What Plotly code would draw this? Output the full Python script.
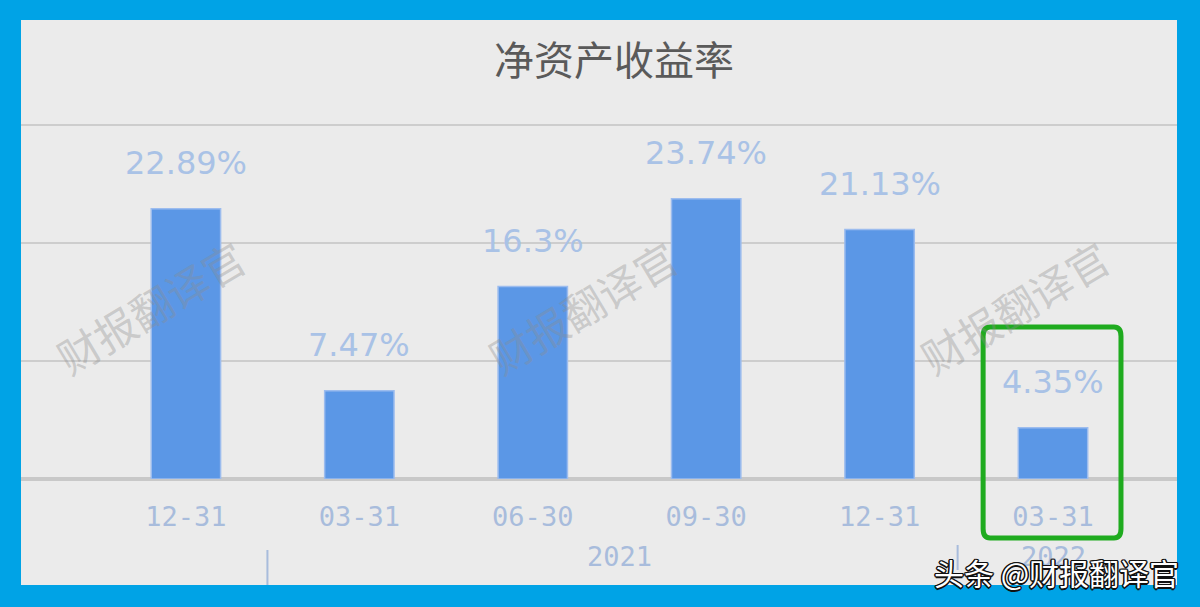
import plotly.graph_objects as go

# ---- data ----
categories = ["12-31", "03-31", "06-30", "09-30", "12-31", "03-31"]
roe_values = [22.89, 7.47, 16.3, 23.74, 21.13, 4.35]
value_labels = ["22.89%", "7.47%", "16.3%", "23.74%", "21.13%", "4.35%"]
year_labels = ["2021", "2022"]
y_ticks = [0, 10, 20, 30]

W, H = 1200, 607
L, R, T, B = 21, 1177, 113, 479  # plot area in pixels
Y_MAX = 31.0


def px(x):
    return (x - L) / (R - L)


def py(y):
    return (B - y) / (B - T)


xs = list(range(len(categories)))
x_lo = -0.951
x_hi = len(categories) - 1 + 0.715

fig = go.Figure()
fig.add_trace(go.Bar(
    x=xs, y=roe_values, width=0.4,
    marker=dict(color="#5b97e6", line=dict(color="#9cbcee", width=1.5)),
    hoverinfo="skip",
))

annotations = []
for i, (v, t) in enumerate(zip(roe_values, value_labels)):
    annotations.append(dict(
        x=i, y=v, xref="x", yref="y", text=t, showarrow=False,
        xanchor="center", yanchor="middle", yshift=46,
        font=dict(family="DejaVu Sans", size=32, color="#a9c2e6"),
    ))

# year labels
tick_font = dict(family="DejaVu Sans Mono", size=27, color="#a8bcdc")
annotations.append(dict(x=(1 + 4) / 2, y=py(556), xref="x", yref="paper", text=year_labels[0],
                        showarrow=False, xanchor="center", yanchor="middle", font=tick_font))
annotations.append(dict(x=5, y=py(556), xref="x", yref="paper", text=year_labels[1],
                        showarrow=False, xanchor="center", yanchor="middle", font=tick_font))

# watermarks
for cx in [150, 582, 1014]:
    annotations.append(dict(x=px(cx), y=py(306), xref="paper", yref="paper", text="财报翻译官",
                            showarrow=False, textangle=-31, xanchor="center", yanchor="middle",
                            font=dict(family="Noto Sans CJK SC", size=42,
                                      color="rgba(140,140,140,0.36)")))

# title
annotations.append(dict(x=px(614), y=py(58), xref="paper", yref="paper", text="净资产收益率",
                        showarrow=False, xanchor="center", yanchor="middle",
                        font=dict(family="Noto Sans CJK SC", size=40, color="#5a5a5a")))

# corner signature with dark outline
sig = "头条 @财报翻译官"
annotations.append(dict(x=px(1181), y=py(572), xref="paper", yref="paper", text=sig,
                        showarrow=False, xanchor="right", yanchor="middle",
                        font=dict(family="Noto Sans CJK SC", size=30, color="#ffffff",
                                  shadow="-1px -1px 0 #111, 1px -1px 0 #111, "
                                         "-1px 1px 0 #111, 1px 1px 0 #111, "
                                         "0 1.5px 0 #111, 0 -1.5px 0 #111, 1.5px 0 0 #111, -1.5px 0 0 #111")))

shapes = [
    # grey panel
    dict(type="rect", xref="paper", yref="paper", x0=0, x1=1, y0=py(585), y1=py(20),
         fillcolor="#ebebeb", line=dict(width=0), layer="below"),
    # group separators
    dict(type="line", xref="x", yref="paper", x0=0.47, x1=0.47, y0=py(585), y1=py(550),
         line=dict(color="#a8bcdc", width=2)),
    dict(type="line", xref="x", yref="paper", x0=4.45, x1=4.45, y0=py(570), y1=py(545),
         line=dict(color="#a8bcdc", width=2)),
]

# green highlight box (rounded) around last bar
last = len(categories) - 1
gx0, gx1 = last - 0.403, last + 0.392
gy0, gy1 = py(538), py(327)
r = 0.04
ry = 0.025
path = (f"M {gx0 + r},{gy1} L {gx1 - r},{gy1} Q {gx1},{gy1} {gx1},{gy1 - ry} "
        f"L {gx1},{gy0 + ry} Q {gx1},{gy0} {gx1 - r},{gy0} L {gx0 + r},{gy0} "
        f"Q {gx0},{gy0} {gx0},{gy0 + ry} L {gx0},{gy1 - ry} Q {gx0},{gy1} {gx0 + r},{gy1} Z")
shapes.append(dict(type="path", xref="x", yref="paper", path=path,
                   line=dict(color="#1fab1f", width=5), layer="above"))

fig.update_layout(
    width=W, height=H,
    margin=dict(l=L, r=W - R, t=T, b=H - B, pad=0),
    paper_bgcolor="#00a3e6",
    plot_bgcolor="#ebebeb",
    showlegend=False,
    annotations=annotations,
    shapes=shapes,
    xaxis=dict(range=[x_lo, x_hi], tickvals=xs, ticktext=categories, showgrid=False,
               zeroline=False, showline=False, ticks="outside", ticklen=14,
               tickcolor="rgba(0,0,0,0)", tickfont=tick_font, fixedrange=True),
    yaxis=dict(range=[0, Y_MAX], tickvals=y_ticks, showticklabels=False, showgrid=True,
               gridcolor="#cdcdcd", gridwidth=2, zeroline=True, zerolinecolor="#c8c8c8",
               zerolinewidth=4, showline=False, fixedrange=True),
)

fig.write_html(
    "out.html",
    config={"displayModeBar": False},
    post_script="document.body.style.margin='0';document.body.style.background='#00a3e6';",
)
